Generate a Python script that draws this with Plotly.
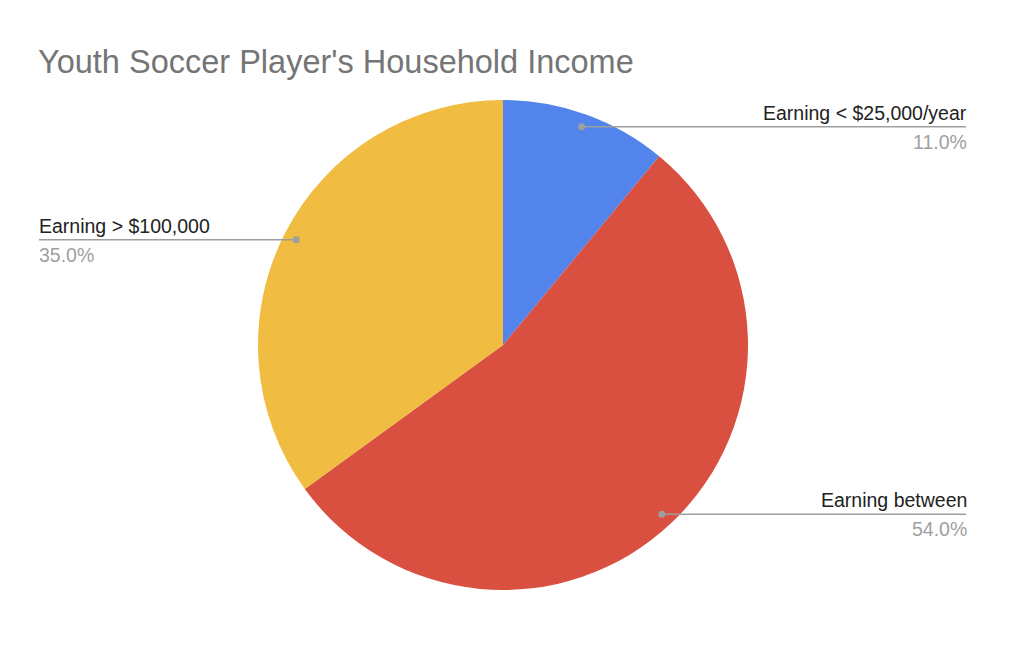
import math
import plotly.graph_objects as go

labels = ["Earning < $25,000/year", "Earning between", "Earning > $100,000"]
values = [11.0, 54.0, 35.0]
colors = ["#5384EC", "#DA5040", "#F0BC41"]
title = "Youth Soccer Player's Household Income"

W, H = 1024, 655
cx, cy, R = 503, 345, 245
left_edge, right_edge = 39, 966
FONT = "Arial, Liberation Sans"

def px(x):
    return x / W

def py(y):
    return 1 - y / H

fig = go.Figure(go.Pie(
    labels=labels, values=values, sort=False, direction="clockwise", rotation=0,
    marker=dict(colors=colors, line=dict(width=0)),
    textinfo="none", hoverinfo="label+percent",
    domain=dict(x=[px(cx - R), px(cx + R)], y=[py(cy + R), py(cy - R)]),
    showlegend=False,
))

shapes = []
annotations = [dict(
    text=title, x=px(36), y=py(62), xref="paper", yref="paper",
    xanchor="left", yanchor="middle", showarrow=False,
    font=dict(family=FONT, size=32.5, color="#757575"),
)]

total = sum(values)
cum = 0.0
for lab, v in zip(labels, values):
    mid = (cum + v / 2) / total * 2 * math.pi
    cum += v
    r = 0.947 * R
    dx = cx + r * math.sin(mid)
    dy = cy - r * math.cos(mid)
    right = math.sin(mid) >= 0
    ex = right_edge if right else left_edge
    shapes.append(dict(type="line", xref="paper", yref="paper",
                       x0=px(dx), y0=py(dy), x1=px(ex), y1=py(dy),
                       line=dict(color="#9E9E9E", width=1.5)))
    shapes.append(dict(type="circle", xref="paper", yref="paper",
                       x0=px(dx - 3.5), y0=py(dy - 3.5), x1=px(dx + 3.5), y1=py(dy + 3.5),
                       fillcolor="#9E9E9E", line=dict(width=0)))
    anchor = "right" if right else "left"
    tx = ex + 3 if right else ex - 2
    annotations.append(dict(
        text=lab.replace("<", "&lt;").replace(">", "&gt;"),
        x=px(tx), y=py(dy - 14), xref="paper", yref="paper",
        xanchor=anchor, yanchor="middle", showarrow=False,
        font=dict(family=FONT, size=19.5, color="#222222"),
    ))
    annotations.append(dict(
        text=f"{v / total * 100:.1f}%",
        x=px(tx), y=py(dy + 15), xref="paper", yref="paper",
        xanchor=anchor, yanchor="middle", showarrow=False,
        font=dict(family=FONT, size=19.5, color="#A0A0A0"),
    ))

fig.update_layout(
    width=W, height=H, margin=dict(l=0, r=0, t=0, b=0),
    paper_bgcolor="white", plot_bgcolor="white",
    shapes=shapes, annotations=annotations,
)

fig.write_html("out.html", config={"displayModeBar": False},
               post_script="document.body.style.margin='0';")
